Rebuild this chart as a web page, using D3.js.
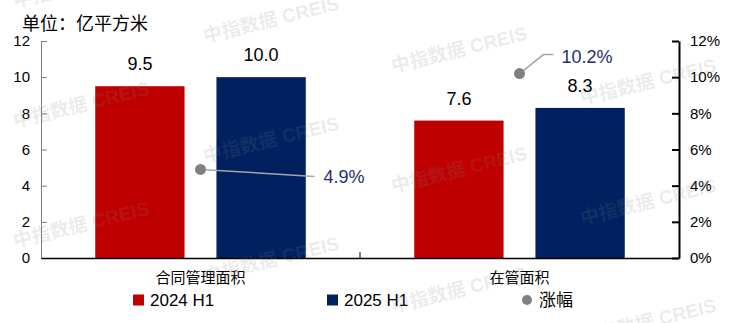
<!DOCTYPE html>
<html>
<head>
<meta charset="utf-8">
<script src="https://cdn.jsdelivr.net/npm/d3@7"></script>
<style>
  body { margin: 0; background: #fff; }
  svg text { font-family: "Liberation Sans", Arial, "Noto Sans CJK SC", sans-serif; }
</style>
</head>
<body>
<svg id="chart" width="734" height="323"></svg>
<script>
// chart values
var categories = ["合同管理面积", "在管面积"];
var seriesNames = ["2024 H1", "2025 H1"];
var area2024 = [9.5, 7.6];
var area2025 = [10.0, 8.3];
var growthPct = [4.9, 10.2];
var leftTicks = [0, 2, 4, 6, 8, 10, 12];
var rightTicks = [0, 2, 4, 6, 8, 10, 12];

var colors = ["#C00000", "#002060"];
var dotColor = "#808080";

const W = 734, H = 323;
const svg = d3.select("#chart");

const plotLeft = 41, plotRight = 679, plotTop = 41, plotBottom = 258;

var x0 = d3.scaleBand().domain(categories).range([plotLeft, plotRight]).padding(0);
var bw = x0.bandwidth();
var x1 = d3.scaleBand().domain(seriesNames)
           .range([bw * 0.17, bw * 0.83])
           .paddingInner(0.263).paddingOuter(0);
var y = d3.scaleLinear().domain([0, 12]).range([plotBottom, plotTop]);
var y2 = d3.scaleLinear().domain([0, 12]).range([plotBottom, plotTop]);

// watermark, drawn first so it sits behind... then again on top faintly
const wmPos = [];
[[15, 8], [205, 43], [393, 73], [582, 105]].forEach(function (p) {
    for (var k = 0; k < 3; k++) wmPos.push([p[0], p[1] + k * 120]);
});

// bars
var rows = categories.map(function (c, i) {
    return { cat: c, vals: [area2024[i], area2025[i]] };
});

var groups = svg.selectAll("g.grp")
    .data(rows)
    .enter().append("g")
    .attr("class", "grp")
    .attr("transform", function (d) { return "translate(" + x0(d.cat) + ",0)"; });

groups.selectAll("rect")
    .data(function (d) { return d.vals.map(function (v, j) { return { s: seriesNames[j], v: v, j: j }; }); })
    .enter().append("rect")
    .attr("x", function (d) { return x1(d.s); })
    .attr("width", x1.bandwidth())
    .attr("y", function (d) { return y(d.v); })
    .attr("height", function (d) { return plotBottom - y(d.v); })
    .attr("fill", function (d) { return colors[d.j]; });

groups.selectAll("text.val")
    .data(function (d) { return d.vals.map(function (v, j) { return { s: seriesNames[j], v: v }; }); })
    .enter().append("text")
    .attr("class", "val")
    .attr("x", function (d) { return x1(d.s) + x1.bandwidth() / 2; })
    .attr("y", function (d) { return y(d.v) - 16; })
    .attr("text-anchor", "middle")
    .attr("font-size", 18)
    .attr("fill", "#000")
    .text(function (d) { return d.v.toFixed(1); });

// left axis
var axL = svg.append("g")
    .attr("transform", "translate(" + plotLeft + ",0)")
    .call(d3.axisLeft(y).tickValues(leftTicks).tickSizeInner(-6).tickSizeOuter(0).tickPadding(11));
axL.select(".domain").attr("stroke", "#808080");
axL.selectAll(".tick line").attr("stroke", "#808080");
axL.selectAll(".tick text").attr("font-size", 15).attr("fill", "#000")
    .attr("font-family", "Liberation Sans, Arial, sans-serif");

// right axis
var axR = svg.append("g")
    .attr("transform", "translate(" + plotRight + ",0)")
    .call(d3.axisRight(y2).tickValues(rightTicks).tickSizeInner(-7).tickSizeOuter(0).tickPadding(11)
        .tickFormat(function (d) { return d + "%"; }));
axR.select(".domain").attr("stroke", "#000").attr("stroke-width", 2);
axR.selectAll(".tick line").attr("stroke", "#000").attr("stroke-width", 2);
axR.selectAll(".tick text").attr("font-size", 15).attr("fill", "#000")
    .attr("font-family", "Liberation Sans, Arial, sans-serif");

// x axis
var axX = svg.append("g")
    .attr("transform", "translate(0," + plotBottom + ")")
    .call(d3.axisBottom(x0).tickSize(0).tickPadding(14));
axX.select(".domain").attr("stroke", "#000").attr("stroke-width", 1.5);
axX.selectAll(".tick text").attr("font-size", 15).attr("fill", "#000")
    .attr("font-family", "Noto Sans CJK SC, sans-serif");
// separator tick between categories
svg.append("line")
    .attr("x1", x0(categories[1])).attr("x2", x0(categories[1]))
    .attr("y1", plotBottom).attr("y2", plotBottom - 6)
    .attr("stroke", "#000").attr("stroke-width", 1);

// growth dots with leader lines
var labelOffsets = [[[0, 0], [114, 7]], [[0, 0], [24, -19], [34, -19]]];
var labelPos = [[123, 7], [42, -17]];

categories.forEach(function (c, i) {
    var cx = x0(c) + bw / 2, cy = y2(growthPct[i]);
    var line = d3.line()(labelOffsets[i].map(function (p) { return [cx + p[0], cy + p[1]]; }));
    svg.append("path").attr("d", line)
        .attr("fill", "none").attr("stroke", "#a6a6a6").attr("stroke-width", 1.5);
    svg.append("circle").attr("cx", cx).attr("cy", cy).attr("r", 5.5).attr("fill", dotColor);
    svg.append("text")
        .attr("x", cx + labelPos[i][0]).attr("y", cy + labelPos[i][1])
        .attr("dy", "0.35em")
        .attr("font-size", 18)
        .attr("fill", "#1F2F6B")
        .text(growthPct[i].toFixed(1) + "%");
});

// title
svg.append("text")
    .attr("x", 22).attr("y", 30)
    .attr("font-size", 18)
    .attr("font-family", "Noto Sans CJK SC, sans-serif")
    .attr("fill", "#000")
    .text("单位：亿平方米");

// legend
var legendItems = [
    { name: seriesNames[0], color: colors[0], shape: "rect", x: 133 },
    { name: seriesNames[1], color: colors[1], shape: "rect", x: 327 },
    { name: "涨幅", color: dotColor, shape: "circle", x: 522 }
];
var lg = svg.append("g").attr("transform", "translate(0,300)");
legendItems.forEach(function (it) {
    if (it.shape === "rect") {
        lg.append("rect").attr("x", it.x).attr("y", -5.5).attr("width", 11).attr("height", 11).attr("fill", it.color);
    } else {
        lg.append("circle").attr("cx", it.x + 5).attr("cy", 0).attr("r", 5).attr("fill", it.color);
    }
    lg.append("text")
        .attr("x", it.x + 17).attr("y", 0).attr("dy", "0.36em")
        .attr("font-size", 17)
        .attr("fill", "#000")
        .attr("font-family", it.shape === "rect" ? "Liberation Sans, Arial, sans-serif" : "Noto Sans CJK SC, sans-serif")
        .text(it.name);
});

// watermark
var wm = svg.append("g").attr("pointer-events", "none");
wmPos.forEach(function (p) {
    wm.append("text")
        .attr("transform", "translate(" + p[0] + "," + p[1] + ") rotate(-14)")
        .attr("font-size", 19)
        .attr("font-weight", "bold")
        .attr("font-family", "Noto Sans CJK SC, sans-serif")
        .attr("fill", "#808080")
        .attr("fill-opacity", 0.16)
        .text("中指数据 CREIS");
});
</script>
</body>
</html>
